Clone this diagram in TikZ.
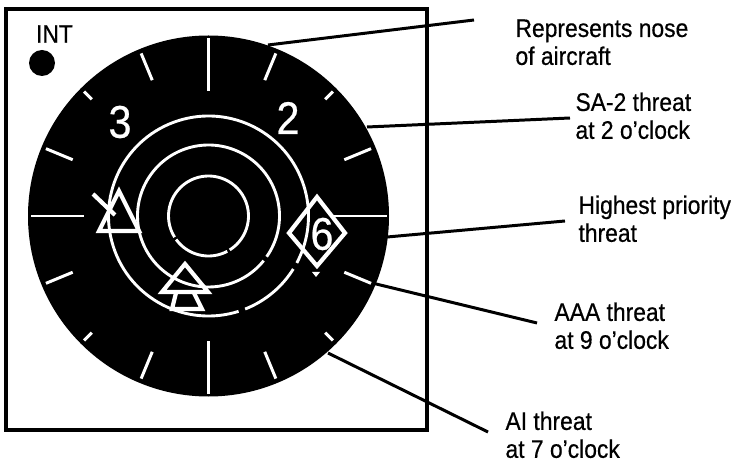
\documentclass[tikz,border=0pt]{standalone}
\usepackage{fontspec}
\setmainfont{Liberation Sans}[FakeStretch=0.9,FakeBold=0.5]
\usetikzlibrary{calc}
\tikzset{
  tag/.style={anchor=north west,inner sep=0pt,align=left,font=\fontsize{25.5}{28}\selectfont},
  digit/.style={text=white,inner sep=0pt,font=\fontsize{46}{46}\selectfont},
  leader/.style={draw=black,line width=3pt},
  tick/.style={draw=white,line width=3pt},
  ring/.style={draw=white,line width=2.9pt},
  symbol/.style={draw=white,line width=4.2pt,miter limit=4},
}
\begin{document}
\begin{tikzpicture}[x=1bp,y=-1bp,line width=1bp]
  \useasboundingbox (0,0) rectangle (735,464);
  \fill[white] (0,0) rectangle (735,464);
  \coordinate (centre) at (208.5,216);
  % panel and dial
  \draw[line width=3.4pt] (6,9) rectangle (427,430);
  \fill[black] (centre) circle[radius=180.5];
  \node[font=\fontsize{25.5}{25.5}\selectfont,inner sep=0pt] (int) at (54.5,34) {INT};
  \fill[black] (42,63) circle[radius=13];
  % ticks
  \foreach \a in {0,90,180,270}
    \draw[tick] ($(centre)+(\a:125)$) -- ($(centre)+(\a:178)$);
  \foreach \a in {22.5,67.5,112.5,157.5,202.5,247.5,292.5,337.5}
    \draw[tick] ($(centre)+(\a:147)$) -- ($(centre)+(\a:176)$);
  \foreach \a in {45,135,225,315}
    \draw[tick] ($(centre)+(\a:165)$) -- ($(centre)+(\a:176)$);
  % range rings, broken by the scan
  \foreach \r/\s/\e in {100/32/68.5,100/72.5/388,71/39/395,40/62/144,40/148/418}
    \draw[ring] ($(centre)+(\s:\r)$) arc[start angle=\s,end angle=\e,radius=\r];
  \node[digit] (three) at (120,122) {3};
  \node[digit] (two) at (288,118) {2};
  \node[digit] (six) at (322,234) {6};
  % threats
  \draw[symbol] (119,191) -- (99,231) -- (139,231) -- cycle;
  \draw[symbol] (93,194) -- (115,215);
  \draw[symbol] (185,264) -- (162,292) -- (208,292) -- cycle;
  \draw[symbol] (176,293) -- (172,309) -- (202,309) -- (194,293);
  \draw[symbol] (317,197) -- (289,233) -- (317,266) -- (345,233) -- cycle;
  \fill[white] (312,272) -- (320,272) -- (316,277) -- cycle;
  % labels
  \node[tag] (nose) at (515,19) {Represents nose\\of aircraft};
  \node[tag] (sa) at (575,92) {SA-2 threat\\at 2 o'clock};
  \node[tag] (high) at (578,195) {Highest priority\\threat};
  \node[tag] (aaa) at (554,302) {AAA threat\\at 9 o'clock};
  \node[tag] (ai) at (505,411) {AI threat\\at 7 o'clock};
  % leaders
  \coordinate (nose-a) at (268,45);
  \coordinate (nose-b) at (474,20);
  \coordinate (sa-a) at (367,127);
  \coordinate (sa-b) at (570,118);
  \coordinate (high-a) at (387,237);
  \coordinate (high-b) at (565,221);
  \coordinate (aaa-a) at (372,283);
  \coordinate (aaa-b) at (537,323);
  \coordinate (ai-a) at (328,353);
  \coordinate (ai-b) at (488,432);
  \foreach \n in {nose,sa,high,aaa,ai}
    \draw[leader] (\n-a) -- (\n-b);
\end{tikzpicture}
\end{document}
